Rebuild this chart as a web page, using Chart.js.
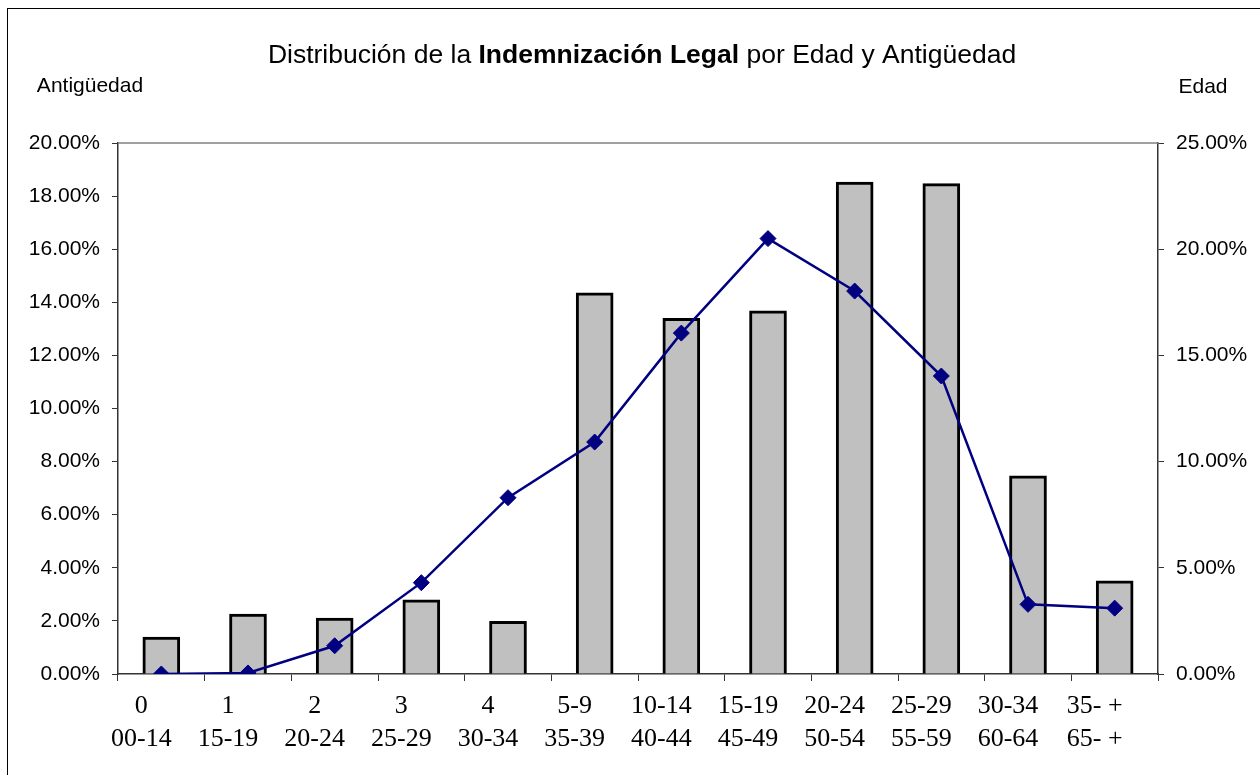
<!DOCTYPE html>
<html>
<head>
<meta charset="utf-8">
<script src="https://cdn.jsdelivr.net/npm/chart.js@4"></script>
<style>
  body { margin: 0; background: #fff; }
  #wrap { width: 1260px; height: 775px; position: relative; }
</style>
</head>
<body>
<div id="wrap"><canvas id="indemChart"></canvas></div>
<script>
// categorias: antiguedad / edad
const antiguedad = ['0', '1', '2', '3', '4', '5-9', '10-14', '15-19', '20-24', '25-29', '30-34', '35- +'];
const edades = ['00-14', '15-19', '20-24', '25-29', '30-34', '35-39', '40-44', '45-49', '50-54', '55-59', '60-64', '65- +'];

// valores en %
const porAntiguedad = [1.39, 2.26, 2.11, 2.79, 1.98, 14.36, 13.40, 13.68, 18.53, 18.47, 7.46, 3.51];
const porEdad = [0.0, 0.05, 1.33, 4.30, 8.30, 10.92, 16.05, 20.50, 18.03, 14.03, 3.28, 3.10];

// ticks de los ejes
const ticksIzq = [0, 2, 4, 6, 8, 10, 12, 14, 16, 18, 20];
const ticksDer = [0, 5, 10, 15, 20, 25];

const etiquetas = antiguedad.map((a, i) => [a, edades[i]]);

const sansFont = "'Liberation Sans', Arial, sans-serif";
const serifFont = "'Liberation Serif', 'Times New Roman', serif";

const decoracion = {
    id: 'decoracion',
    beforeDraw(chart) {
        const ctx = chart.ctx;
        ctx.save();
        ctx.strokeStyle = '#000';
        ctx.lineWidth = 1;
        ctx.strokeRect(7.5, 8.5, chart.width + 20, chart.height + 20);
        ctx.restore();
    },
    afterDraw(chart) {
        const ctx = chart.ctx;
        const area = chart.chartArea;
        ctx.save();
        // borde superior del area de trazado
        ctx.strokeStyle = '#808080';
        ctx.lineWidth = 1.5;
        ctx.beginPath();
        ctx.moveTo(area.left, area.top);
        ctx.lineTo(area.right, area.top);
        ctx.stroke();

        // titulo con parte en negrita
        const partes = [
            { t: 'Distribución de la ', b: false },
            { t: 'Indemnización Legal', b: true },
            { t: ' por Edad y Antigüedad', b: false }
        ];
        const size = 26.5;
        let total = 0;
        partes.forEach(p => {
            ctx.font = (p.b ? 'bold ' : '') + size + 'px ' + sansFont;
            p.w = ctx.measureText(p.t).width;
            total += p.w;
        });
        let x = (area.left + area.right) / 2 + 4 - total / 2;
        ctx.fillStyle = '#000';
        ctx.textBaseline = 'middle';
        ctx.textAlign = 'left';
        partes.forEach(p => {
            ctx.font = (p.b ? 'bold ' : '') + size + 'px ' + sansFont;
            ctx.fillText(p.t, x, 56);
            x += p.w;
        });

        // nombres de los ejes
        ctx.font = '21px ' + sansFont;
        ctx.textAlign = 'center';
        ctx.fillText('Antigüedad', area.left - 28, 86);
        ctx.fillText('Edad', area.right + 45, 87);
        ctx.restore();
    }
};

const ctxIndem = document.getElementById('indemChart').getContext('2d');
new Chart(ctxIndem, {
    data: {
        labels: etiquetas,
        datasets: [
            {
                type: 'line',
                label: 'Edad',
                data: porEdad,
                yAxisID: 'y1',
                borderColor: '#000080',
                backgroundColor: '#000080',
                borderWidth: 2.5,
                pointStyle: 'rectRot',
                pointRadius: 8,
                pointBorderWidth: 1,
                tension: 0,
                order: 0
            },
            {
                type: 'bar',
                label: 'Antigüedad',
                data: porAntiguedad,
                yAxisID: 'y',
                backgroundColor: '#C0C0C0',
                borderColor: '#000',
                borderWidth: 3,
                barThickness: 37,
                order: 1
            }
        ]
    },
    options: {
        responsive: true,
        maintainAspectRatio: false,
        animation: false,
        layout: {
            padding: { top: 143, left: 0, right: 0, bottom: 0 }
        },
        plugins: {
            legend: { display: false },
            tooltip: { enabled: false }
        },
        scales: {
            x: {
                offset: true,
                grid: {
                    offset: true,
                    drawOnChartArea: false,
                    drawTicks: true,
                    tickLength: 7,
                    tickColor: '#333'
                },
                border: { color: '#333', width: 1.5 },
                ticks: {
                    color: '#000',
                    autoSkip: false,
                    maxRotation: 0,
                    labelOffset: -20,
                    padding: 9,
                    font: { family: serifFont, size: 26, lineHeight: 1.27 }
                },
                afterFit: function (scale) { scale.height = 101; }
            },
            y: {
                position: 'left',
                min: 0,
                max: 20,
                afterBuildTicks: function (scale) {
                    scale.ticks = ticksIzq.map(v => ({ value: v }));
                },
                grid: {
                    drawOnChartArea: false,
                    tickLength: 6,
                    tickColor: '#333'
                },
                border: { color: '#333', width: 1.5 },
                ticks: {
                    color: '#000',
                    padding: 12,
                    font: { family: sansFont, size: 21 },
                    callback: function (value) { return value.toFixed(2) + '%'; }
                },
                afterFit: function (scale) { scale.width = 118; }
            },
            y1: {
                position: 'right',
                min: 0,
                max: 25,
                afterBuildTicks: function (scale) {
                    scale.ticks = ticksDer.map(v => ({ value: v }));
                },
                grid: {
                    drawOnChartArea: false,
                    tickLength: 6,
                    tickColor: '#333'
                },
                border: { color: '#333', width: 1.5 },
                ticks: {
                    color: '#000',
                    padding: 12,
                    font: { family: sansFont, size: 21 },
                    callback: function (value) { return value.toFixed(2) + '%'; }
                },
                afterFit: function (scale) { scale.width = 102; }
            }
        }
    },
    plugins: [decoracion]
});
</script>
</body>
</html>
